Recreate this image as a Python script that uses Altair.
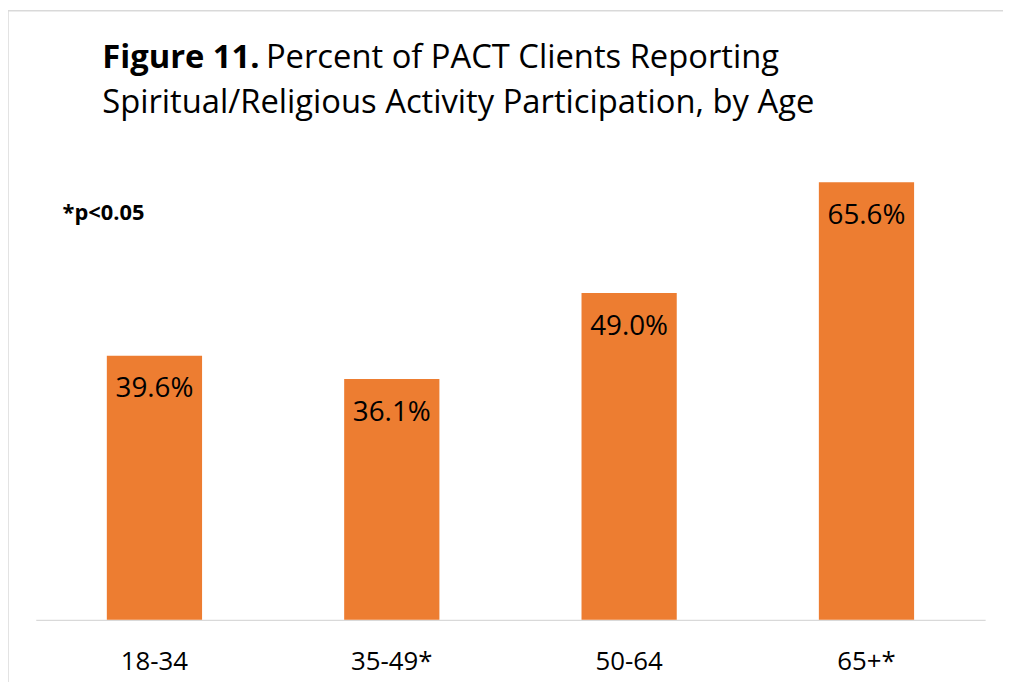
import altair as alt
import pandas as pd

ages = ["18-34", "35-49*", "50-64", "65+*"]
percents = [39.6, 36.1, 49.0, 65.6]
labels = ["39.6%", "36.1%", "49.0%", "65.6%"]

title_bold = "Figure 11."
title_rest = "Percent of PACT Clients Reporting"
title_line2 = "Spiritual/Religious Activity Participation, by Age"
note = "*p<0.05"

df = pd.DataFrame({"age": ages, "pct": percents, "label": labels})

W = 957
H = 470.6
FONT = "Open Sans"
ORANGE = "#ED7D31"
TFS = 33

x = alt.X("age:N", sort=ages, title=None,
          scale=alt.Scale(paddingInner=0, paddingOuter=0),
          axis=alt.Axis(labelAngle=0, ticks=False, domainColor="#d9d9d9", domainWidth=1.3,
                        labelFontSize=26, labelFont=FONT, labelColor="#000000",
                        labelPadding=29, grid=False))
y = alt.Y("pct:Q", scale=alt.Scale(domain=[0, 70]), axis=None)

base = alt.Chart(df)

bars = base.mark_bar(size=96, color=ORANGE).encode(x=x, y=y)
texts = base.mark_text(font=FONT, fontSize=28, color="#000000", baseline="middle", dy=34).encode(
    x=x, y=y, text="label:N")

ann = pd.DataFrame({"t": [0]})
t1 = alt.Chart(ann).mark_text(font=FONT, fontSize=TFS, fontWeight="bold", align="left",
                              baseline="alphabetic", color="#000000").encode(
    x=alt.value(67), y=alt.value(66 - 151.4), text=alt.value(title_bold))
t2 = alt.Chart(ann).mark_text(font=FONT, fontSize=TFS, align="left",
                              baseline="alphabetic", color="#000000").encode(
    x=alt.value(268 - 36), y=alt.value(66 - 151.4), text=alt.value(title_rest))
t3 = alt.Chart(ann).mark_text(font=FONT, fontSize=TFS, align="left",
                              baseline="alphabetic", color="#000000").encode(
    x=alt.value(67), y=alt.value(111 - 151.4), text=alt.value(title_line2))
t4 = alt.Chart(ann).mark_text(font=FONT, fontSize=22, fontWeight="bold", align="left",
                              baseline="middle", color="#000000").encode(
    x=alt.value(63 - 36), y=alt.value(212 - 151.4), text=alt.value(note))

border_v = alt.Chart(ann).mark_rule(color="#d9d9d9", strokeWidth=1.5).encode(
    x=alt.value(-28), y=alt.value(-143.4), y2=alt.value(H + 80))
border_h = alt.Chart(ann).mark_rule(color="#d9d9d9", strokeWidth=1.5).encode(
    x=alt.value(-28), x2=alt.value(W + 40), y=alt.value(-143.4))

chart = alt.layer(bars, texts, t1, t2, t3, t4, border_v, border_h).properties(
    width=W, height=H,
    padding={"left": 28, "top": 143.4, "right": 18, "bottom": 60},
    autosize="none",
    background="white",
).configure_view(stroke=None)

chart.save("out.html", embed_options={"renderer": "svg", "actions": False})
